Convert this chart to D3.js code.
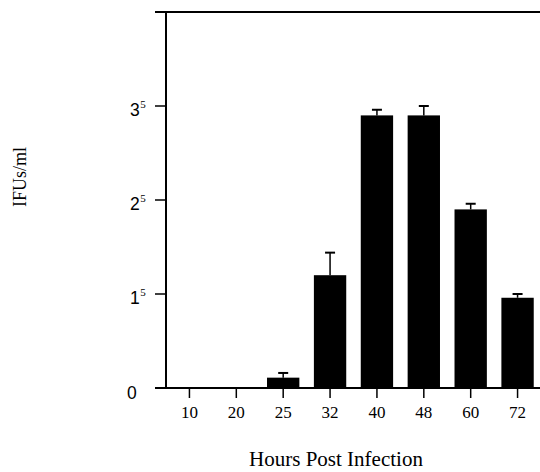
<!DOCTYPE html>
<html>
<head>
<meta charset="utf-8">
<script src="https://cdn.jsdelivr.net/npm/d3@7"></script>
<style>
  body { margin: 0; background: #fff; }
  svg { display: block; }
</style>
</head>
<body>
<div id="chart"></div>
<script>
// values (units of 10^5 IFUs/ml)
const hours = ["10", "20", "25", "32", "40", "48", "60", "72"]
const means = [0, 0, 0.11, 1.2, 2.9, 2.9, 1.9, 0.96]
const errors = [0, 0, 0.05, 0.24, 0.06, 0.1, 0.06, 0.04]
const yTicks = [0, 1, 2, 3]
const yTickBase = ["0", "1", "2", "3"]

const width = 540
const height = 472
const margin = { top: 12, right: 0, bottom: 84, left: 166 }

const svg = d3.select("#chart")
  .append("svg")
  .attr("width", width)
  .attr("height", height)

const x = d3.scaleBand()
  .domain(hours)
  .range([margin.left, 541])
  .paddingInner(0.31)
  .paddingOuter(0.155)

const y = d3.scaleLinear()
  .domain([0, 4])
  .range([height - margin.bottom, margin.top])

const data = hours.map((h, i) => ({ h, v: means[i], e: errors[i] }))

// bars
svg.selectAll("rect.bar")
  .data(data.filter(d => d.v > 0))
  .enter()
    .append("rect")
    .attr("class", "bar")
    .attr("x", d => x(d.h))
    .attr("y", d => y(d.v))
    .attr("width", x.bandwidth())
    .attr("height", d => y(0) - y(d.v))
    .attr("fill", "#000")

// error bars (upper only)
const cap = 5
const err = svg.selectAll("g.err")
  .data(data.filter(d => d.e > 0))
  .enter()
    .append("g")
    .attr("class", "err")
err.append("line")
  .attr("x1", d => x(d.h) + x.bandwidth() / 2)
  .attr("x2", d => x(d.h) + x.bandwidth() / 2)
  .attr("y1", d => y(d.v))
  .attr("y2", d => y(d.v + d.e))
  .attr("stroke", "#000")
  .attr("stroke-width", 1.5)
err.append("line")
  .attr("x1", d => x(d.h) + x.bandwidth() / 2 - cap)
  .attr("x2", d => x(d.h) + x.bandwidth() / 2 + cap)
  .attr("y1", d => y(d.v + d.e))
  .attr("y2", d => y(d.v + d.e))
  .attr("stroke", "#000")
  .attr("stroke-width", 2)

// frame lines: left axis, top line, baseline
svg.append("line")
  .attr("x1", margin.left).attr("x2", margin.left)
  .attr("y1", y(4)).attr("y2", y(0))
  .attr("stroke", "#000").attr("stroke-width", 2)
svg.append("line")
  .attr("x1", 155).attr("x2", width)
  .attr("y1", y(4)).attr("y2", y(4))
  .attr("stroke", "#000").attr("stroke-width", 2)
svg.append("line")
  .attr("x1", 155).attr("x2", width)
  .attr("y1", y(0)).attr("y2", y(0))
  .attr("stroke", "#000").attr("stroke-width", 2)

// y ticks
const yAxis = svg.append("g")
yAxis.selectAll("line.tick")
  .data(yTicks.filter(d => d > 0))
  .enter()
    .append("line")
    .attr("x1", margin.left - 11)
    .attr("x2", margin.left)
    .attr("y1", d => y(d))
    .attr("y2", d => y(d))
    .attr("stroke", "#000")
    .attr("stroke-width", 1.5)

const yLabels = yAxis.selectAll("text.ylab")
  .data(yTicks)
  .enter()
    .append("text")
    .attr("class", "ylab")
    .attr("x", d => d === 0 ? 127 : 130)
    .attr("y", d => y(d) + (d === 0 ? 11 : 10))
    .attr("font-family", "Liberation Sans, Arial, sans-serif")
    .attr("font-size", 17.5)
    .attr("fill", "#000")
yLabels.append("tspan")
  .text((d, i) => yTickBase[i])
yLabels.filter(d => d > 0)
  .append("tspan")
  .attr("dy", -8)
  .attr("dx", 0.5)
  .attr("font-family", "Liberation Serif, Times New Roman, serif")
  .attr("font-size", 11)
  .text("5")

// x ticks
const xAxis = svg.append("g")
xAxis.selectAll("line")
  .data(hours)
  .enter()
    .append("line")
    .attr("x1", d => x(d) + x.bandwidth() / 2)
    .attr("x2", d => x(d) + x.bandwidth() / 2)
    .attr("y1", y(0))
    .attr("y2", y(0) + 10)
    .attr("stroke", "#000")
    .attr("stroke-width", 1.5)
xAxis.selectAll("text")
  .data(hours)
  .enter()
    .append("text")
    .attr("x", d => x(d) + x.bandwidth() / 2)
    .attr("y", y(0) + 30)
    .attr("text-anchor", "middle")
    .attr("font-family", "Liberation Serif, Times New Roman, serif")
    .attr("font-size", 17)
    .attr("fill", "#000")
    .text(d => d)

// axis titles
svg.append("text")
  .attr("x", 336)
  .attr("y", 466)
  .attr("text-anchor", "middle")
  .attr("font-family", "Liberation Serif, Times New Roman, serif")
  .attr("font-size", 21)
  .attr("fill", "#000")
  .text("Hours Post Infection")

svg.append("text")
  .attr("transform", "translate(26,177) rotate(-90)")
  .attr("text-anchor", "middle")
  .attr("font-family", "Liberation Serif, Times New Roman, serif")
  .attr("font-size", 18)
  .attr("fill", "#000")
  .text("IFUs/ml")
</script>
</body>
</html>
